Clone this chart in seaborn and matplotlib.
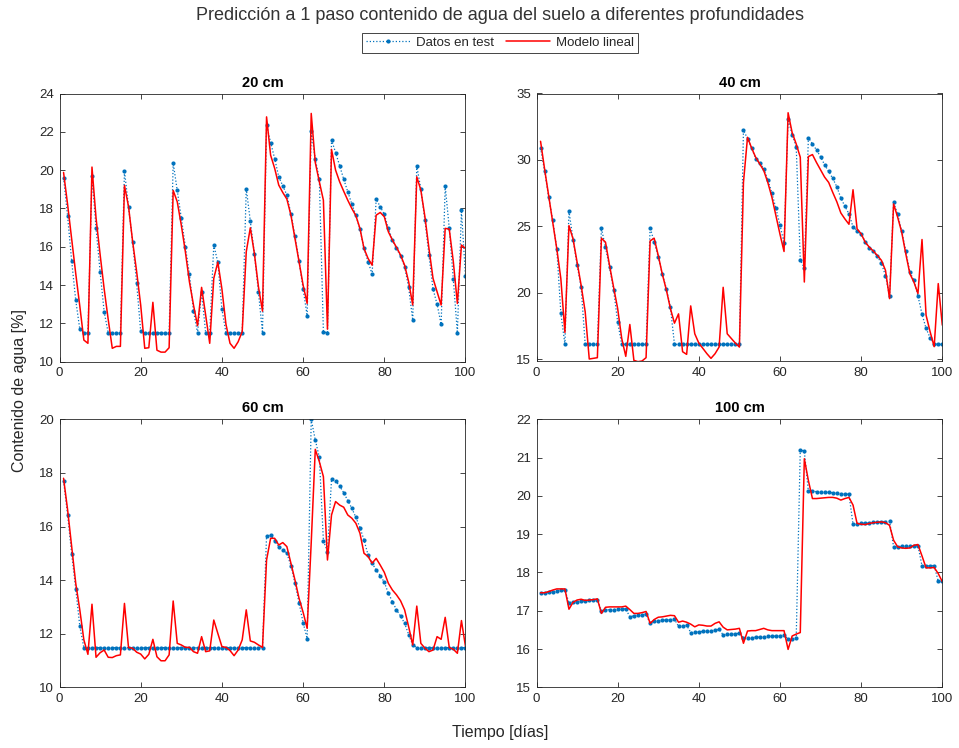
import numpy as np
import pandas as pd
import seaborn as sns
import matplotlib
matplotlib.use("Agg")
import matplotlib.pyplot as plt

# ---- data -------------------------------------------------------------
dias = list(range(1, 101))

test_20 = [19.6, 17.58, 15.25, 13.2, 11.7, 11.5, 11.5, 19.7, 16.96, 14.7,
           12.6, 11.5, 11.5, 11.5, 11.5, 19.98, 18.07, 16.26, 14.1, 11.58,
           11.5, 11.5, 11.5, 11.5, 11.5, 11.5, 11.5, 20.38, 18.94, 17.5,
           16.0, 14.56, 12.66, 11.5, 13.65, 11.5, 11.5, 16.09, 15.18, 12.75,
           11.5, 11.5, 11.5, 11.5, 11.5, 19.04, 17.34, 15.63, 13.65, 11.5,
           22.35, 21.44, 20.6, 19.65, 19.18, 18.7, 17.72, 16.56, 15.25, 13.8,
           12.4, 22.03, 20.57, 19.53, 11.57, 11.5, 21.57, 20.92, 20.23, 19.53,
           18.87, 18.23, 17.65, 16.92, 15.91, 15.22, 14.57, 18.49, 18.09, 17.69,
           16.96, 16.35, 15.91, 15.51, 14.96, 13.88, 12.17, 20.23, 19.01, 17.39,
           15.57, 13.8, 13.0, 11.95, 19.18, 16.96, 14.3, 11.5, 17.9, 14.45]
modelo_20 = [19.88, 18.2, 16.4, 14.6, 12.9, 11.13, 10.96, 20.16, 17.5, 15.6,
             13.8, 12.2, 10.7, 10.8, 10.8, 19.2, 18.1, 16.3, 14.7, 12.95,
             10.7, 10.73, 13.1, 10.6, 10.5, 10.5, 10.73, 18.94, 18.35, 17.13,
             15.74, 14.17, 12.96, 11.88, 13.88, 12.43, 10.96, 14.35, 15.2, 13.8,
             11.95, 10.96, 10.7, 11.04, 11.57, 15.74, 16.99, 15.65, 13.91, 12.64,
             22.78, 20.78, 20.09, 19.22, 18.83, 18.49, 17.65, 16.43, 15.22, 14.0,
             13.04, 22.96, 20.4, 19.39, 18.43, 11.7, 21.08, 20.0, 19.39, 18.9,
             18.43, 18.0, 17.62, 16.96, 15.91, 15.39, 15.04, 17.65, 17.79, 17.57,
             16.78, 16.35, 15.97, 15.57, 15.04, 14.17, 12.96, 19.65, 18.96, 17.57,
             15.91, 14.35, 13.65, 12.96, 16.96, 16.92, 15.22, 13.04, 16.09, 15.91]

test_40 = [30.9, 29.15, 27.2, 25.45, 23.3, 18.45, 16.1, 26.15, 24.0, 22.1,
           20.4, 16.1, 16.1, 16.1, 16.1, 24.85, 23.4, 21.9, 20.2, 17.8,
           16.1, 16.1, 16.1, 16.1, 16.1, 16.1, 16.1, 24.9, 23.8, 22.7,
           21.4, 20.3, 18.9, 16.1, 16.1, 16.1, 16.1, 16.1, 16.1, 16.1,
           16.1, 16.1, 16.1, 16.1, 16.1, 16.1, 16.1, 16.1, 16.1, 16.1,
           32.25, 31.6, 30.9, 30.1, 29.75, 29.35, 28.5, 27.5, 26.35, 25.1,
           23.75, 33.05, 31.9, 31.0, 22.48, 21.85, 31.68, 31.2, 30.75, 30.23,
           29.63, 29.13, 28.6, 27.98, 27.13, 26.5, 25.93, 24.95, 24.68, 24.4,
           23.85, 23.38, 23.1, 22.73, 22.2, 21.28, 19.73, 26.8, 25.9, 24.63,
           23.13, 21.55, 20.93, 19.75, 18.38, 17.3, 16.6, 16.15, 16.1, 16.1]
modelo_40 = [31.4, 29.3, 27.3, 25.3, 23.3, 21.05, 17.0, 25.05, 24.05, 22.3,
             20.55, 18.55, 15.0, 15.05, 15.1, 24.1, 23.8, 22.05, 20.4, 18.8,
             16.55, 15.2, 17.6, 14.9, 14.8, 14.85, 15.1, 23.9, 24.1, 22.8,
             21.4, 20.2, 18.8, 17.7, 18.4, 15.55, 15.35, 19.0, 16.9, 16.2,
             15.8, 15.4, 15.05, 15.4, 15.9, 20.4, 16.9, 16.55, 16.2, 15.9,
             28.3, 31.7, 30.9, 30.2, 29.7, 29.2, 28.3, 27.2, 25.8, 24.4,
             23.1, 33.55, 32.05, 31.2, 30.2, 20.8, 30.25, 30.4, 29.8, 29.25,
             28.7, 28.3, 27.55, 26.85, 26.0, 25.55, 25.15, 27.75, 24.8, 24.43,
             23.8, 23.43, 23.13, 22.8, 22.43, 21.68, 19.55, 26.68, 25.68, 24.55,
             22.93, 21.43, 20.8, 19.93, 24.0, 18.3, 17.05, 15.93, 20.68, 17.55]

test_60 = [17.7, 16.43, 14.98, 13.67, 12.28] + [11.48] * 45 + [
           15.65, 15.67, 15.47, 15.25, 15.12, 15.0, 14.54, 13.88, 13.16, 12.41,
           11.82, 20.0, 19.23, 18.58, 15.47, 15.06, 17.76, 17.7, 17.51, 17.26,
           16.97, 16.68, 16.34, 15.96, 15.5, 14.94, 14.63, 14.38, 14.17, 13.92,
           13.51, 13.2, 12.89, 12.66, 12.39, 11.97, 11.58] + [11.48] * 13
modelo_60 = [17.8, 16.62, 15.25, 13.88, 12.89, 11.77, 11.23, 13.1, 11.12, 11.29,
             11.39, 11.12, 11.11, 11.18, 11.21, 13.13, 11.48, 11.46, 11.31, 11.24,
             11.06, 11.23, 11.79, 11.14, 10.99, 10.99, 11.21, 13.22, 11.64, 11.58,
             11.49, 11.49, 11.33, 11.27, 11.89, 11.33, 11.36, 12.51, 12.01, 11.52,
             11.49, 11.37, 11.18, 11.39, 11.77, 12.89, 11.73, 11.68, 11.58, 11.49,
             14.75, 15.56, 15.56, 15.31, 15.4, 15.25, 14.63, 14.0, 13.32, 12.8,
             12.2, 15.4, 18.88, 18.42, 17.86, 14.75, 16.43, 16.93, 16.8, 16.72,
             16.43, 16.31, 16.12, 15.75, 15.0, 14.88, 14.63, 14.81, 14.56, 14.29,
             13.88, 13.63, 13.45, 13.23, 12.89, 12.26, 11.58, 13.03, 11.64, 11.46,
             11.33, 11.39, 11.89, 11.79, 12.61, 11.48, 11.42, 11.27, 12.49, 11.52]

test_100 = [17.45, 17.46, 17.48, 17.5, 17.51, 17.53, 17.54, 17.21, 17.23, 17.24,
            17.25, 17.26, 17.27, 17.28, 17.29, 17.0, 17.02, 17.03, 17.03, 17.04,
            17.04, 17.05, 16.84, 16.87, 16.89, 16.9, 16.91, 16.67, 16.72, 16.74,
            16.75, 16.76, 16.77, 16.78, 16.59, 16.6, 16.62, 16.43, 16.44, 16.45,
            16.46, 16.47, 16.48, 16.49, 16.51, 16.37, 16.38, 16.39, 16.4, 16.41,
            16.29, 16.3, 16.3, 16.31, 16.31, 16.32, 16.33, 16.33, 16.34, 16.35,
            16.36, 16.27, 16.27, 16.28, 21.21, 21.16, 20.12, 20.12, 20.11, 20.1,
            20.1, 20.09, 20.08, 20.07, 20.06, 20.05, 20.04, 19.26, 19.27, 19.28,
            19.29, 19.3, 19.31, 19.32, 19.33, 19.33, 19.34, 18.67, 18.67, 18.68,
            18.68, 18.69, 18.7, 18.7, 18.17, 18.17, 18.18, 18.18, 17.77, 17.77]
modelo_100 = [17.47, 17.47, 17.5, 17.54, 17.57, 17.57, 17.57, 17.04, 17.22, 17.28,
              17.3, 17.27, 17.28, 17.29, 17.31, 16.93, 17.09, 17.1, 17.1, 17.1,
              17.1, 17.12, 17.03, 16.93, 16.93, 16.95, 16.98, 16.67, 16.77, 16.83,
              16.84, 16.86, 16.88, 16.87, 16.7, 16.73, 16.7, 16.65, 16.58, 16.63,
              16.62, 16.6, 16.6, 16.67, 16.71, 16.57, 16.5, 16.51, 16.52, 16.54,
              16.15, 16.47, 16.48, 16.48, 16.51, 16.54, 16.5, 16.48, 16.48, 16.48,
              16.48, 15.99, 16.34, 16.39, 16.43, 20.97, 20.4, 19.93, 19.93, 19.94,
              19.95, 19.96, 19.96, 19.94, 19.89, 19.93, 19.96, 19.76, 19.28, 19.26,
              19.25, 19.28, 19.3, 19.31, 19.32, 19.3, 19.23, 18.84, 18.67, 18.64,
              18.63, 18.64, 18.71, 18.73, 18.43, 18.12, 18.12, 18.13, 17.97, 17.76]

profundidades = ["20 cm", "40 cm", "60 cm", "100 cm"]
series_test = [test_20, test_40, test_60, test_100]
series_modelo = [modelo_20, modelo_40, modelo_60, modelo_100]
limites_y = [(10, 24), (14.85, 35), (10, 20), (15, 22)]
ticks_y = [np.arange(10, 25, 2), np.arange(15, 36, 5),
           np.arange(10, 21, 2), np.arange(15, 23, 1)]

# ---- style --------------------------------------------------------------
sns.set_style("ticks")
plt.rcParams["font.family"] = ["Liberation Sans", "DejaVu Sans"]
txt = "#262626"
plt.rcParams.update({
    "axes.edgecolor": txt, "axes.linewidth": 0.6,
    "xtick.color": txt, "ytick.color": txt,
    "xtick.labelcolor": txt, "ytick.labelcolor": txt,
    "xtick.direction": "in", "ytick.direction": "in",
    "xtick.top": True, "ytick.right": True,
    "xtick.major.size": 3.5, "ytick.major.size": 3.5,
    "xtick.major.width": 0.6, "ytick.major.width": 0.6,
    "xtick.labelsize": 9.5, "ytick.labelsize": 9.5,
})

azul = "#0072BD"
rojo = "#FF0000"

fig = plt.figure(figsize=(9.59, 7.48), dpi=100)
W, H = 959, 748
cajas = [(59.5, 93.5, 465.5, 361.7), (536.5, 93.5, 942.3, 361.0),
         (59.5, 419.3, 465.5, 687.3), (536.5, 419.3, 942.3, 687.3)]

for i, (x0, y0, x1, y1) in enumerate(cajas):
    ax = fig.add_axes([x0 / W, 1 - y1 / H, (x1 - x0) / W, (y1 - y0) / H])
    df = pd.DataFrame({"dia": dias, "test": series_test[i],
                       "modelo": series_modelo[i]})
    sns.lineplot(data=df, x="dia", y="test", ax=ax, color=azul,
                 linestyle=(0, (1, 1.6)), linewidth=0.9, marker="o",
                 markersize=3.0, markeredgewidth=0, legend=False)
    sns.lineplot(data=df, x="dia", y="modelo", ax=ax, color=rojo,
                 linewidth=1.1, legend=False)
    ax.set_xlim(0, 100)
    ax.set_ylim(*limites_y[i])
    ax.set_xticks(np.arange(0, 101, 20))
    ax.set_yticks(ticks_y[i])
    ax.set_xlabel("")
    ax.set_ylabel("")
    ax.tick_params(axis="both", pad=4)
    ax.set_title(profundidades[i], fontsize=10.5, fontweight="bold",
                 color="black", pad=5)
    for s in ax.spines.values():
        s.set_visible(True)
    if i == 0:
        handles = ax.get_lines()[:2]

fig.suptitle("Predicción a 1 paso contenido de agua del suelo a diferentes profundidades",
             x=500 / W, y=1 - 16 / H, va="center", fontsize=13, color="#333333")

leg = fig.legend(handles, ["Datos en test", "Modelo lineal"], ncol=2,
                 loc="center", bbox_to_anchor=(500 / W, 1 - 43 / H),
                 fontsize=9.5, frameon=True, fancybox=False, framealpha=1,
                 edgecolor="#262626", handlelength=3.4, handletextpad=0.45,
                 columnspacing=0.85, borderpad=0.3, borderaxespad=0)
leg.get_frame().set_linewidth(0.6)

fig.text(20 / W, 1 - 390 / H, "Contenido de agua [%]", rotation=90,
         ha="center", va="center", fontsize=11.5, color=txt)
fig.text(500 / W, 1 - 733 / H, "Tiempo [días]", ha="center", va="center",
         fontsize=11.5, color=txt)

fig.savefig("out.png", dpi=100)
